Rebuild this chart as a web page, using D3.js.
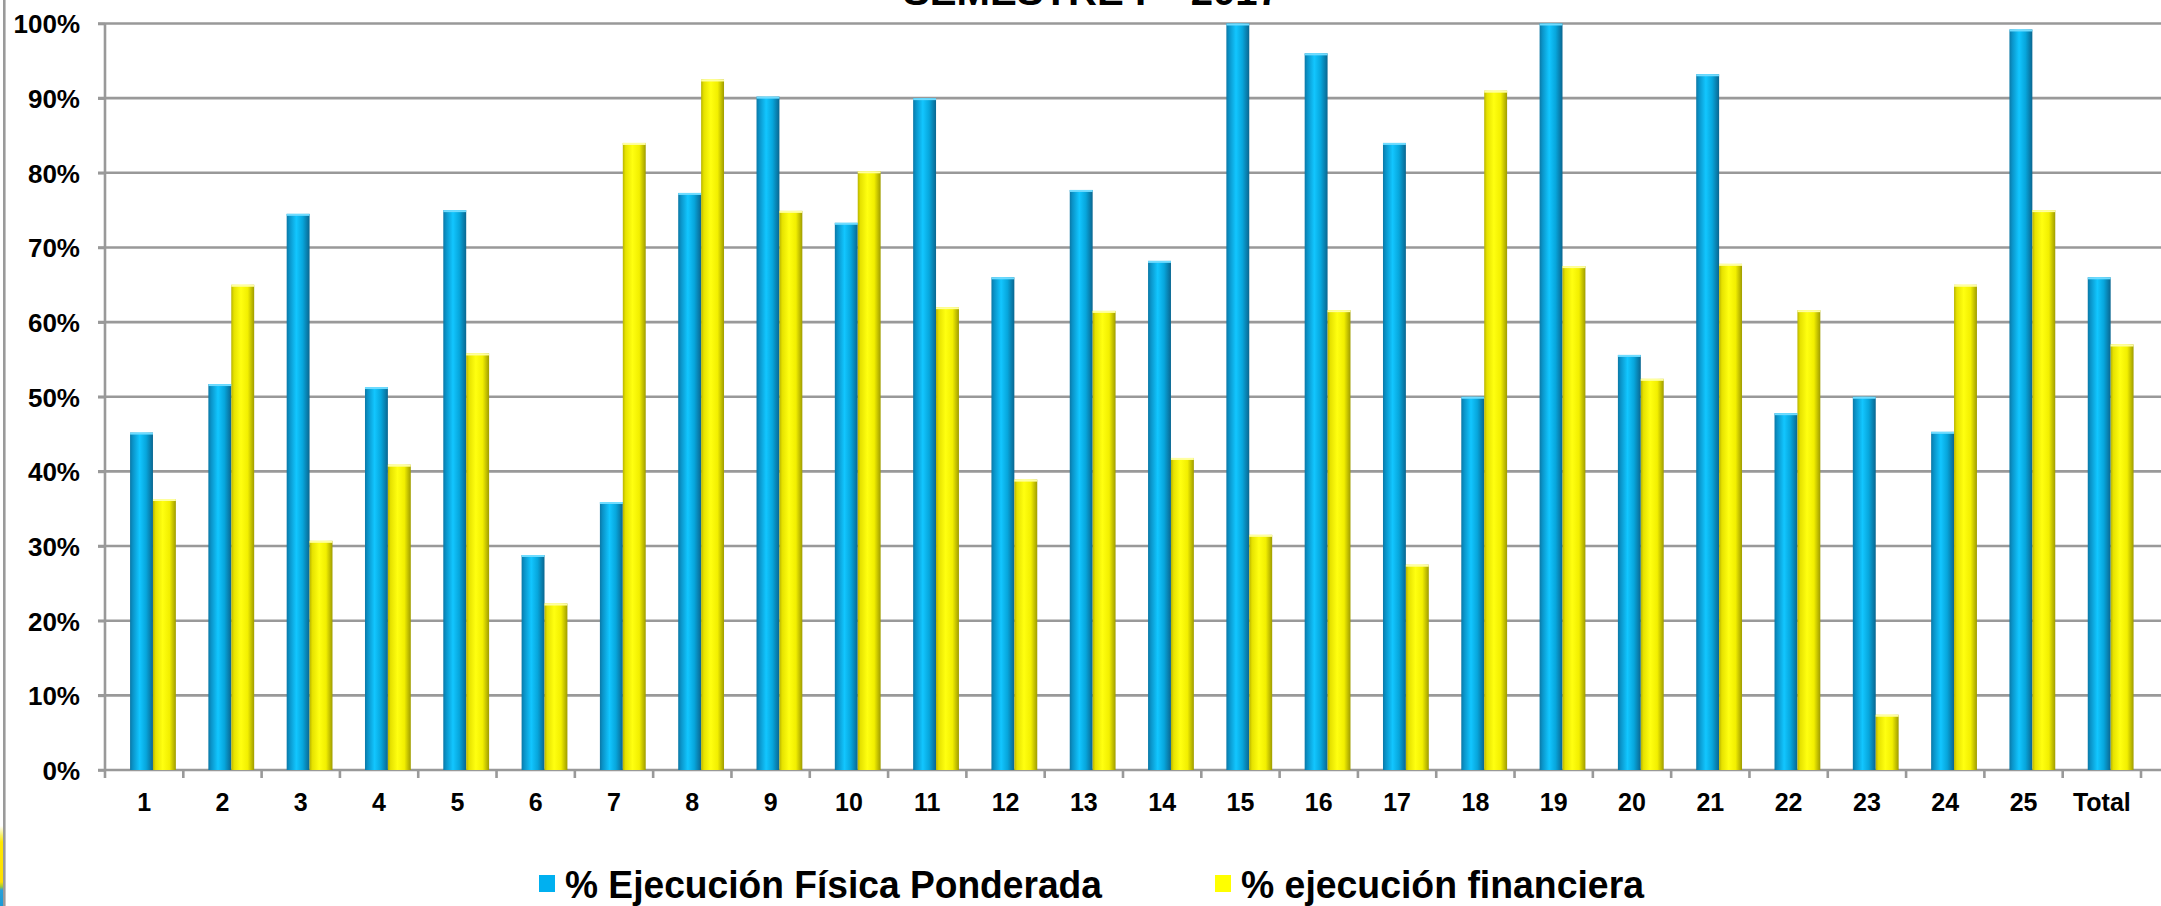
<!DOCTYPE html>
<meta charset="utf-8">
<style>
  body { margin: 0; background: #fff; }
  svg { display: block; }
  .lbl { font-family: "Liberation Sans", Arial, Helvetica, sans-serif; font-weight: bold; fill: #000; }
</style>
<body>
<script src="https://cdn.jsdelivr.net/npm/d3@7"></script>
<script>

// categories and the two series (fractions)
var categories = ["1","2","3","4","5","6","7","8","9","10","11","12","13","14","15","16","17","18","19","20","21","22","23","24","25","Total"];
var fisica = [0.452, 0.517, 0.745, 0.513, 0.750, 0.288, 0.359, 0.773, 0.902, 0.733, 0.900, 0.660, 0.777, 0.682, 1.000, 0.960, 0.840, 0.500, 1.000, 0.556, 0.932, 0.478, 0.500, 0.453, 0.992, 0.660];
var financiera = [0.363, 0.650, 0.307, 0.409, 0.558, 0.223, 0.840, 0.925, 0.749, 0.802, 0.620, 0.389, 0.615, 0.418, 0.315, 0.616, 0.275, 0.910, 0.675, 0.524, 0.678, 0.616, 0.074, 0.650, 0.750, 0.570];
var seriesNames = ["% Ejecución Física Ponderada", "% ejecución financiera"];
var yTicks = [0, 0.1, 0.2, 0.3, 0.4, 0.5, 0.6, 0.7, 0.8, 0.9, 1.0];

var width = 2161, height = 906;

var svg = d3.select("body").append("svg")
    .attr("width", width).attr("height", height);

var defs = svg.append("defs");

// cylinder-ish shading like the original 3D columns
function shade(id, stops) {
    var g = defs.append("linearGradient").attr("id", id)
        .attr("x1", "0%").attr("x2", "100%").attr("y1", "0%").attr("y2", "0%");
    stops.forEach(function(s) {
        g.append("stop").attr("offset", s[0]).attr("stop-color", s[1]);
    });
}
shade("gBlue", [["0%", "#0b78a6"], ["12%", "#0a93c8"], ["42%", "#12c6ff"], ["70%", "#07a6dc"], ["100%", "#0a6690"]]);
shade("gYellow", [["0%", "#b8b400"], ["12%", "#e6e200"], ["42%", "#ffff10"], ["72%", "#f2ef00"], ["100%", "#9f9c00"]]);

var colors = { fisica: "url(#gBlue)", financiera: "url(#gYellow)" };
var flat = { fisica: "#00b0f0", financiera: "#ffff00" };
var tops = { fisica: "#6fdcff", financiera: "#ffffa0" };

// scales
var x0 = d3.scaleBand().domain(categories).range([105, 2141]).padding(0);
var bw = x0.bandwidth();
var x1 = d3.scaleBand().domain(["fisica", "financiera"]).range([bw * 0.32, bw * 0.905]).padding(0);
var y = d3.scaleLinear().domain([0, 1]).range([770, 23.5]);

// slide border on the far left
svg.append("line").attr("x1", 4.3).attr("x2", 4.3).attr("y1", 0).attr("y2", height)
    .attr("stroke", "#9a9a9a").attr("stroke-width", 2.6);
var strip = defs.append("linearGradient").attr("id", "gStrip")
    .attr("x1", "0%").attr("x2", "0%").attr("y1", "0%").attr("y2", "100%");
[["0%", "#ffffff"], ["12%", "#f7ef60"], ["20%", "#ffe800"], ["70%", "#ffe000"], ["76%", "#9bc83c"], ["80%", "#2aa0d8"], ["100%", "#1a9ad6"]]
    .forEach(function(s) { strip.append("stop").attr("offset", s[0]).attr("stop-color", s[1]); });
svg.append("rect").attr("x", 0).attr("y", 826).attr("width", 3).attr("height", 80).attr("fill", "url(#gStrip)");

// title (cut off by the top edge)
svg.append("text").attr("class", "lbl")
    .attr("x", 903).attr("y", 4.5)
    .attr("font-size", 38)
    .attr("textLength", 377).attr("lengthAdjust", "spacingAndGlyphs")
    .text("SEMESTRE I – 2017");

// horizontal gridlines
svg.append("g").selectAll("line")
    .data(yTicks)
    .enter().append("line")
    .attr("x1", 98).attr("x2", width)
    .attr("y1", function(d) { return y(d); })
    .attr("y2", function(d) { return y(d); })
    .attr("stroke", "#999").attr("stroke-width", 2.6);

// y axis
var yAxis = svg.append("g")
    .attr("transform", "translate(105,0)")
    .call(d3.axisLeft(y).tickValues(yTicks).tickFormat(d3.format(".0%")).tickSize(7).tickPadding(18));
yAxis.select(".domain").attr("stroke", "#999").attr("stroke-width", 2.6)
    .attr("d", "M0," + y(1) + "V" + (y(0) + 8));
yAxis.selectAll(".tick line").attr("stroke", "#999").attr("stroke-width", 2.6);
yAxis.selectAll(".tick text").attr("class", "lbl").attr("font-size", 26).attr("dy", "0.36em");

// x axis: ticks at band edges, labels centred in bands
var xAxis = svg.append("g")
    .attr("transform", "translate(0," + y(0) + ")")
    .call(d3.axisBottom(x0).tickSize(0).tickPadding(23));
xAxis.select(".domain").remove();
xAxis.selectAll(".tick text").attr("class", "lbl").attr("font-size", 25);

svg.append("g").selectAll("line")
    .data(categories)
    .enter().append("line")
    .attr("x1", function(d) { return x0(d) + bw; })
    .attr("x2", function(d) { return x0(d) + bw; })
    .attr("y1", y(0)).attr("y2", y(0) + 8)
    .attr("stroke", "#999").attr("stroke-width", 2.6);

// bars
var rows = categories.map(function(c, i) {
    return { cat: c, vals: [{ key: "fisica", v: fisica[i] }, { key: "financiera", v: financiera[i] }] };
});

var groups = svg.append("g").selectAll("g")
    .data(rows)
    .enter().append("g")
    .attr("transform", function(d) { return "translate(" + x0(d.cat) + ",0)"; });

groups.selectAll("rect.bar")
    .data(function(d) { return d.vals; })
    .enter().append("rect")
    .attr("class", "bar")
    .attr("x", function(d) { return x1(d.key); })
    .attr("width", x1.bandwidth())
    .attr("y", function(d) { return y(d.v); })
    .attr("height", function(d) { return y(0) - y(d.v); })
    .attr("fill", function(d) { return colors[d.key]; });

groups.selectAll("rect.cap")
    .data(function(d) { return d.vals; })
    .enter().append("rect")
    .attr("class", "cap")
    .attr("x", function(d) { return x1(d.key); })
    .attr("width", x1.bandwidth())
    .attr("y", function(d) { return y(d.v); })
    .attr("height", 2)
    .attr("fill", function(d) { return tops[d.key]; });

// legend
var legendItems = [
    { key: "fisica", label: seriesNames[0], x: 539, len: 537 },
    { key: "financiera", label: seriesNames[1], x: 1215, len: 403 }
];
var legend = svg.append("g").selectAll("g")
    .data(legendItems)
    .enter().append("g")
    .attr("transform", function(d) { return "translate(" + d.x + ",0)"; });

legend.append("rect")
    .attr("x", 0).attr("y", 875).attr("width", 16).attr("height", 17)
    .attr("fill", function(d) { return flat[d.key]; });

legend.append("text").attr("class", "lbl")
    .attr("x", 26).attr("y", 898)
    .attr("font-size", 38)
    .attr("textLength", function(d) { return d.len; })
    .attr("lengthAdjust", "spacingAndGlyphs")
    .text(function(d) { return d.label; });

</script>
</body>
